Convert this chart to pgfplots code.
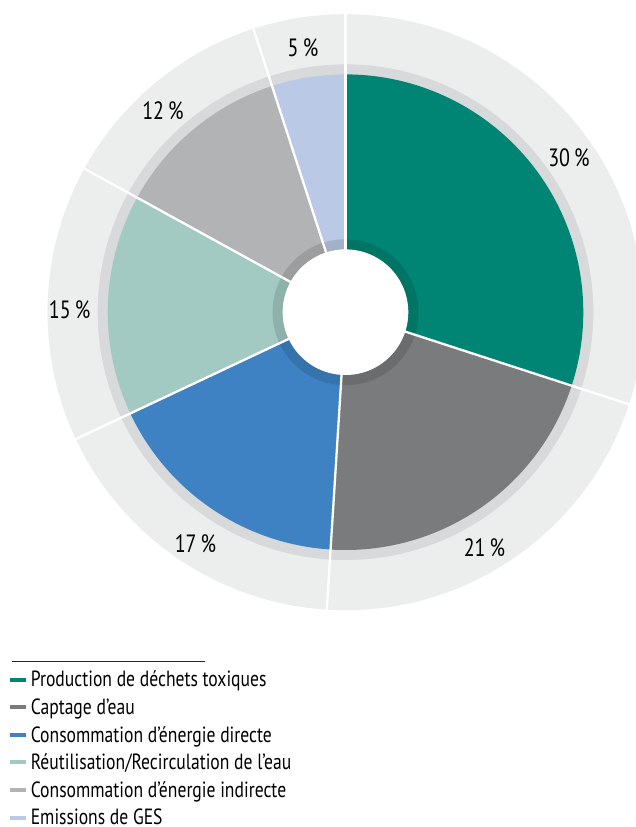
\documentclass[border=0pt]{standalone}
\usepackage{fontspec}
\setmainfont{PT Sans}[FakeStretch=0.80]
\usepackage{pgfplots}
\usepackage{pgfplotstable}
\pgfplotsset{compat=1.18}

\definecolor{cProd}{HTML}{008574}
\definecolor{cCapt}{HTML}{7A7B7D}
\definecolor{cDirect}{HTML}{3E82C3}
\definecolor{cReuse}{HTML}{A2CAC3}
\definecolor{cIndirect}{HTML}{B2B3B5}
\definecolor{cGES}{HTML}{B9C9E6}
\definecolor{ringout}{HTML}{ECEDED}
\definecolor{ringmid}{HTML}{D8D9DB}

% shares in percent, clockwise from 12 o'clock
\pgfplotstableread{
value colour
30 cProd
21 cCapt
17 cDirect
15 cReuse
12 cIndirect
5 cGES
}\piedata

\newcommand{\labelfont}{\fontsize{25}{30}\selectfont}

\begin{document}
\begin{tikzpicture}
\begin{axis}[
  at={(0pt,0pt)}, anchor=origin,
  x=1pt, y=1pt,
  xmin=-345.5, xmax=290.5, ymin=-514.8, ymax=312.2,
  hide axis, clip=false,
  legend cell align=left,
  legend image code/.code={\draw[#1, line width=4pt] (0pt,0.9pt) -- (15.6pt,0.9pt);},
  legend style={at={(axis cs:-337.5,-359.5)}, anchor=north west,
    draw=none, fill=none, inner sep=0pt,
    font=\fontsize{22}{26}\selectfont,
    row sep=10.6pt, column sep=3pt,
    nodes={inner sep=0pt, text height=15pt, text depth=2pt}},
]
\pgfplotsextra{
  \fill[ringout] (axis cs:0,0) circle[radius=298pt];
  \fill[ringmid] (axis cs:0,0) circle[radius=247.8pt];
  \pgfplotstablegetrowsof{\piedata}
  \pgfmathtruncatemacro{\nrows}{\pgfplotsretval-1}
  \xdef\cumang{90}
  \foreach \i in {0,...,\nrows}{
    \pgfplotstablegetelem{\i}{value}\of\piedata
    \let\val\pgfplotsretval
    \pgfplotstablegetelem{\i}{colour}\of\piedata
    \let\col\pgfplotsretval
    \pgfmathsetmacro{\endang}{\cumang-3.6*\val}
    \fill[fill=\col] (axis cs:0,0) -- ++(\cumang:237.8pt)
      arc[start angle=\cumang, end angle=\endang, radius=237.8pt] -- cycle;
    \xdef\cumang{\endang}
  }
  % darker band round the hole
  \fill[black, opacity=0.12, even odd rule] (axis cs:0,0) circle[radius=73pt]
    (axis cs:0,0) circle[radius=62.8pt];
  % white separators
  \xdef\cumang{90}
  \foreach \i in {0,...,\nrows}{
    \pgfplotstablegetelem{\i}{value}\of\piedata
    \draw[white, line width=2.3pt] (axis cs:0,0) -- ++(\cumang:299pt);
    \pgfmathsetmacro{\endang}{\cumang-3.6*\pgfplotsretval}
    \xdef\cumang{\endang}
  }
  \fill[white] (axis cs:0,0) circle[radius=62.8pt];
  % legend rule
  \draw[line width=0.8pt, black!85] (axis cs:-333.5,-348.8) -- (axis cs:-140.5,-348.8);
}
\node[anchor=base, font=\labelfont] at (axis cs:223.5,145.5) {30\,\%};
\node[anchor=base, font=\labelfont] at (axis cs:139,-243.8) {21\,\%};
\node[anchor=base, font=\labelfont] at (axis cs:-150,-239.8) {17\,\%};
\node[anchor=base, font=\labelfont] at (axis cs:-275.8,-6.3) {15\,\%};
\node[anchor=base, font=\labelfont] at (axis cs:-182.5,192.2) {12\,\%};
\node[anchor=base, font=\labelfont] at (axis cs:-42.5,255.5) {5\,\%};

\addlegendimage{cProd}\addlegendentry{Production de déchets toxiques}
\addlegendimage{cCapt}\addlegendentry{Captage d’eau}
\addlegendimage{cDirect}\addlegendentry{Consommation d’énergie directe}
\addlegendimage{cReuse}\addlegendentry{Réutilisation/Recirculation de l’eau}
\addlegendimage{cIndirect}\addlegendentry{Consommation d’énergie indirecte}
\addlegendimage{cGES}\addlegendentry{Emissions de GES}
\end{axis}
\pgfresetboundingbox
\path (-345.5pt,-514.8pt) rectangle (290.5pt,312.2pt);
\end{tikzpicture}
\end{document}
